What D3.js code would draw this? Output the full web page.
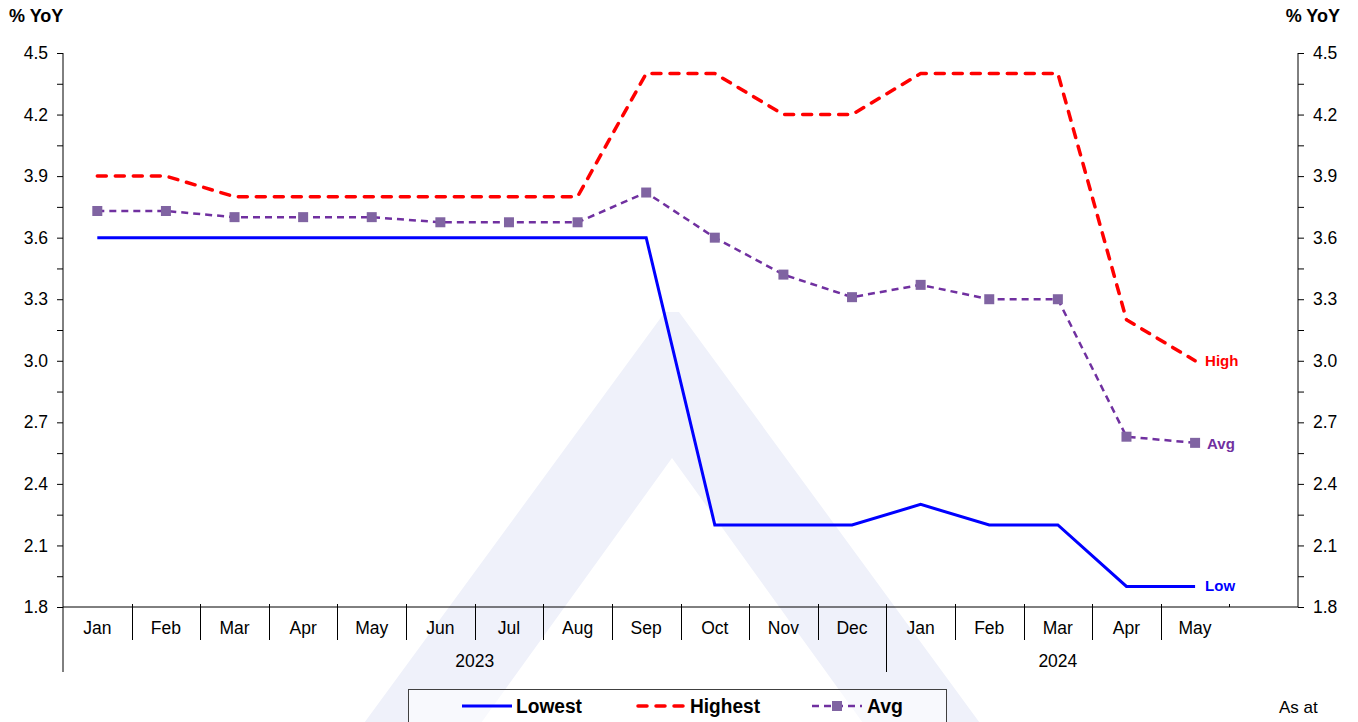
<!DOCTYPE html>
<html>
<head>
<meta charset="utf-8">
<script src="https://cdn.jsdelivr.net/npm/d3@7"></script>
<style>
  body { margin: 0; background: #fff; }
  svg { display: block; font-family: "Liberation Sans", Arial, sans-serif; }
</style>
</head>
<body>
<svg id="chart" width="1358" height="722"></svg>
<script>
// chart data
var months = ["Jan", "Feb", "Mar", "Apr", "May", "Jun", "Jul", "Aug", "Sep", "Oct", "Nov", "Dec",
              "Jan", "Feb", "Mar", "Apr", "May"];
var years = [{label: "2023", from: 0, to: 12}, {label: "2024", from: 12, to: 17}];
var lowest  = [3.6, 3.6, 3.6, 3.6, 3.6, 3.6, 3.6, 3.6, 3.6, 2.2, 2.2, 2.2, 2.3, 2.2, 2.2, 1.9, 1.9];
var highest = [3.9, 3.9, 3.8, 3.8, 3.8, 3.8, 3.8, 3.8, 4.4, 4.4, 4.2, 4.2, 4.4, 4.4, 4.4, 3.2, 3.0];
var avg     = [3.73, 3.73, 3.70, 3.70, 3.70, 3.675, 3.675, 3.675, 3.82, 3.60, 3.42, 3.31, 3.37, 3.30, 3.30, 2.63, 2.60];
var yTicks = [1.8, 2.1, 2.4, 2.7, 3.0, 3.3, 3.6, 3.9, 4.2, 4.5];

var svg = d3.select("#chart");
var plotL = 63, plotR = 1298, plotT = 53, plotB = 607;

// 17 months plus one empty slot at the end
var x = d3.scaleBand().domain(d3.range(18)).range([plotL, plotR]).paddingInner(0).paddingOuter(0);
var cx = function(i) { return x(i) + x.bandwidth() / 2; };
var y = d3.scaleLinear().domain([1.8, 4.5]).range([plotB, plotT]);

// faint watermark chevron
var wm = svg.append("g").attr("fill", "#eff1fa");
wm.append("path").attr("d",
  "M665,312 L679,312 L985,730 L868,730 L672,458 L476,730 L359,730 Z");

// y axes
var minor = d3.range(1.8, 4.51, 0.15);
var isMajor = function(d) { return yTicks.some(function(t) { return Math.abs(t - d) < 1e-6; }); };
var yl = svg.append("g").attr("transform", "translate(" + plotL + ",0)")
  .call(d3.axisLeft(y).tickValues(minor).tickSize(6).tickFormat(function(d) {
    return isMajor(d) ? d3.format(".1f")(d) : "";
  }));
var yr = svg.append("g").attr("transform", "translate(" + plotR + ",0)")
  .call(d3.axisRight(y).tickValues(minor).tickSize(6).tickFormat(function(d) {
    return isMajor(d) ? d3.format(".1f")(d) : "";
  }));
[yl, yr].forEach(function(g) {
  g.select(".domain").remove();
  g.selectAll("line").attr("stroke", "#000");
  g.selectAll("text").attr("font-size", 17.5).attr("fill", "#000")
    .attr("font-family", "Liberation Sans, Arial, sans-serif");
});
yl.selectAll("text").attr("x", -15);
yr.selectAll("text").attr("x", 15);
svg.append("line").attr("x1", plotL).attr("x2", plotL).attr("y1", plotT).attr("y2", 672).attr("stroke", "#000");
svg.append("line").attr("x1", plotR).attr("x2", plotR).attr("y1", plotT).attr("y2", plotB).attr("stroke", "#000");

// x axis
svg.append("line").attr("x1", plotL).attr("x2", plotR).attr("y1", plotB).attr("y2", plotB).attr("stroke", "#000");
d3.range(1, 18).forEach(function(k) {
  var bx = Math.round(x(k)) + 0.5;
  var y2 = k === 12 ? 672 : (k === 17 ? plotB : 640);
  svg.append("line").attr("x1", bx).attr("x2", bx).attr("y1", plotB - 3).attr("y2", y2)
    .attr("stroke", "#000");
});
svg.append("g").selectAll("text").data(months).join("text")
  .attr("x", function(d, i) { return cx(i); })
  .attr("y", 634).attr("text-anchor", "middle").attr("font-size", 17.5)
  .text(function(d) { return d; });
svg.append("g").selectAll("text").data(years).join("text")
  .attr("x", function(d) { return (x(d.from) + x(d.to)) / 2; })
  .attr("y", 667).attr("text-anchor", "middle").attr("font-size", 17.5)
  .text(function(d) { return d.label; });

// axis titles
svg.append("text").attr("x", 9).attr("y", 22).attr("font-size", 18).attr("font-weight", "bold").text("% YoY");
svg.append("text").attr("x", 1340).attr("y", 22).attr("font-size", 18).attr("font-weight", "bold")
  .attr("text-anchor", "end").text("% YoY");

// series
var line = d3.line().x(function(d, i) { return cx(i); }).y(function(d) { return y(d); });
svg.append("path").datum(lowest).attr("d", line).attr("fill", "none")
  .attr("stroke", "#0000ff").attr("stroke-width", 3);
svg.append("path").datum(highest).attr("d", line).attr("fill", "none")
  .attr("stroke", "#ff0000").attr("stroke-width", 3.5).attr("stroke-dasharray", "9,9")
  .attr("stroke-linecap", "round").attr("stroke-linejoin", "round");
svg.append("path").datum(avg).attr("d", line).attr("fill", "none")
  .attr("stroke", "#7030a0").attr("stroke-width", 2.5).attr("stroke-dasharray", "7,5");
svg.append("g").selectAll("rect").data(avg).join("rect")
  .attr("x", function(d, i) { return cx(i) - 5; })
  .attr("y", function(d) { return y(d) - 5; })
  .attr("width", 10).attr("height", 10).attr("fill", "#8064a2");

// end labels
var last = months.length - 1;
svg.append("text").attr("x", cx(last) + 10).attr("y", y(highest[last]) + 5)
  .attr("font-size", 15).attr("font-weight", "bold").attr("fill", "#ff0000").text("High");
svg.append("text").attr("x", cx(last) + 12).attr("y", y(avg[last]) + 6)
  .attr("font-size", 15).attr("font-weight", "bold").attr("fill", "#7030a0").text("Avg");
svg.append("text").attr("x", cx(last) + 10).attr("y", y(lowest[last]) + 5)
  .attr("font-size", 15).attr("font-weight", "bold").attr("fill", "#0000ff").text("Low");

// legend
var lg = svg.append("g");
lg.append("rect").attr("x", 408.5).attr("y", 689.5).attr("width", 538).attr("height", 40)
  .attr("fill", "#fff").attr("fill-opacity", 0.55).attr("stroke", "#404040");
var ly = 706;
lg.append("line").attr("x1", 462).attr("x2", 512).attr("y1", ly).attr("y2", ly)
  .attr("stroke", "#0000ff").attr("stroke-width", 3);
lg.append("line").attr("x1", 638).attr("x2", 686).attr("y1", ly).attr("y2", ly)
  .attr("stroke", "#ff0000").attr("stroke-width", 3.5).attr("stroke-dasharray", "9,9")
  .attr("stroke-linecap", "round");
lg.append("line").attr("x1", 812).attr("x2", 862).attr("y1", ly).attr("y2", ly)
  .attr("stroke", "#7030a0").attr("stroke-width", 2.5).attr("stroke-dasharray", "7,5");
lg.append("rect").attr("x", 832).attr("y", ly - 5).attr("width", 10).attr("height", 10).attr("fill", "#8064a2");
[["Lowest", 516, 66], ["Highest", 690, 70], ["Avg", 867, 36]].forEach(function(d) {
  lg.append("text").attr("x", d[1]).attr("y", ly + 7).attr("font-size", 20).attr("font-weight", "bold")
    .attr("textLength", d[2]).attr("lengthAdjust", "spacingAndGlyphs").text(d[0]);
});

svg.append("text").attr("x", 1279).attr("y", 713).attr("font-size", 17).text("As at");
</script>
</body>
</html>
